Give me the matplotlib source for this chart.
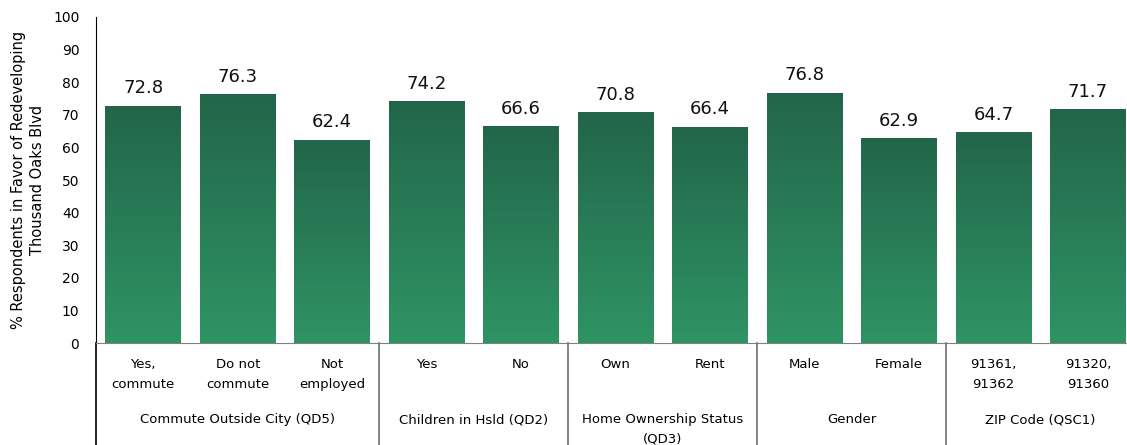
# Support for redeveloping Thousand Oaks Blvd, by respondent group

import numpy as np
import matplotlib.pyplot as plt
from matplotlib.colors import LinearSegmentedColormap


# Sub-category labels and values
categories = ['Yes,\ncommute', 'Do not\ncommute', 'Not\nemployed',
              'Yes', 'No',
              'Own', 'Rent',
              'Male', 'Female',
              '91361,\n91362', '91320,\n91360']
values = [72.8, 76.3, 62.4, 74.2, 66.6, 70.8, 66.4, 76.8, 62.9, 64.7, 71.7]

# Group labels and how many sub-categories each covers
groups = ['Commute Outside City (QD5)', 'Children in Hsld (QD2)',
          'Home Ownership Status\n(QD3)', 'Gender', 'ZIP Code (QSC1)']
group_sizes = [3, 2, 2, 2, 2]

y_ticks = list(range(0, 101, 10))


# Bar fill: dark green at the top fading to a lighter green at the base
green_fade = LinearSegmentedColormap.from_list('green_fade', ['#2F9464', '#22654A'])


def draw_gradient_bars(ax, xs, heights, width):
    gradient = np.linspace(0, 1, 256).reshape(-1, 1)
    bars = ax.bar(xs, heights, width=width, color='none', edgecolor='none')
    for bar in bars:
        x0, y0 = bar.get_x(), bar.get_y()
        x1, y1 = x0 + bar.get_width(), y0 + bar.get_height()
        img = ax.imshow(gradient, cmap=green_fade, origin='lower', aspect='auto',
                        extent=(x0, x1, y0, y1), zorder=2)
        img.set_clip_path(bar)
    return bars


fig = plt.figure(figsize=(11.27, 4.45), dpi=100)
ax = fig.add_axes([0.0852, 0.229, 0.922, 0.733])

xs = np.arange(len(categories))
draw_gradient_bars(ax, xs, values, 0.8)

# Value labels above each bar
for x, v in zip(xs, values):
    ax.text(x, v + 2.5, f'{v:.1f}', ha='center', va='bottom', fontsize=13, color='#111111')

ax.set_xlim(-0.5, len(categories) - 0.5)
ax.set_ylim(0, 100)
ax.set_yticks(y_ticks)
ax.tick_params(axis='y', length=0, labelsize=10, pad=12)
ax.set_xticks([])

for side in ['top', 'right']:
    ax.spines[side].set_visible(False)
ax.spines['bottom'].set_color('#808080')
ax.spines['left'].set_color('black')
ax.spines['left'].set_bounds(0, 100)

ax.set_ylabel('% Respondents in Favor of Redeveloping\nThousand Oaks Blvd',
              fontsize=10.5, labelpad=6, linespacing=1.3)

# Two-level category axis below the bars
trans = ax.get_xaxis_transform()
for x, label in zip(xs, categories):
    ax.text(x, -0.045, label, transform=trans, ha='center', va='top',
            fontsize=9.5, linespacing=1.75, clip_on=False)

# Left spine continues down, plus separators between groups
ax.plot([-0.5, -0.5], [0, -0.35], transform=trans, color='black', lw=1.2, clip_on=False)
start = 0
for name, size in zip(groups, group_sizes):
    end = start + size
    center = (start + end - 1) / 2
    ax.text(center, -0.215, name, transform=trans, ha='center', va='top',
            fontsize=9.5, linespacing=1.6, clip_on=False)
    if end < len(categories):
        ax.plot([end - 0.5, end - 0.5], [0, -0.35], transform=trans,
                color='#707070', lw=1.2, clip_on=False)
    start = end

fig.savefig('out.png', dpi=100)
